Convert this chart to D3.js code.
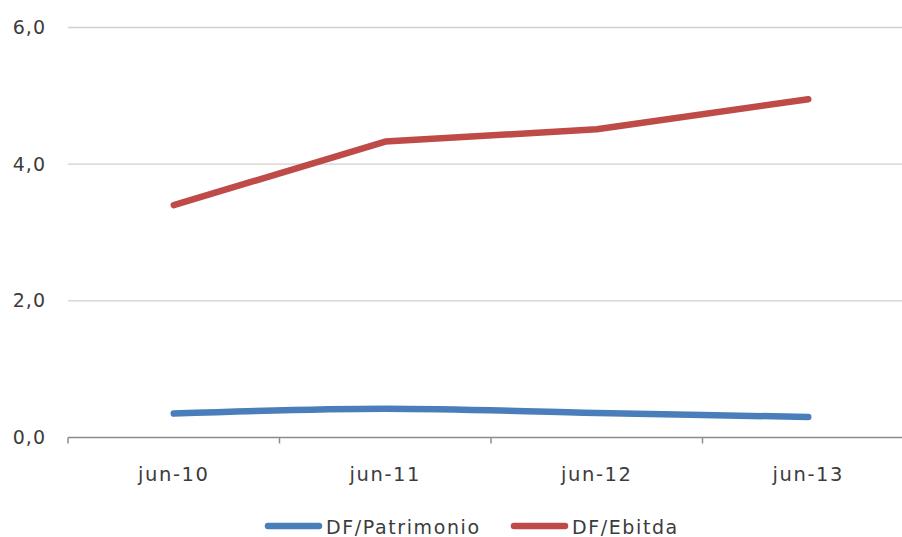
<!DOCTYPE html>
<html>
<head>
<meta charset="utf-8">
<script src="https://cdn.jsdelivr.net/npm/d3@7"></script>
<style>
  html, body { margin: 0; padding: 0; background: #ffffff; }
  svg { display: block; }
  text { font-family: "DejaVu Sans", sans-serif; fill: #3c3c3c; }
</style>
</head>
<body>
<svg id="chart" width="902" height="537"></svg>
<script>
// Periods on the category axis
const categories = ["jun-10", "jun-11", "jun-12", "jun-13"];
// Ratio series
const patrimonio = [0.35, 0.42, 0.36, 0.30];
const ebitda = [3.40, 4.33, 4.51, 4.95];
// Value axis ticks and their labels
const yTicks = [0, 2, 4, 6];
const yTickLabels = ["0,0", "2,0", "4,0", "6,0"];
const seriesNames = ["DF/Patrimonio", "DF/Ebitda"];

const W = 902, H = 537;
const plot = { left: 68, right: 914, top: 27.5, bottom: 437.5 };

const svg = d3.select("#chart");

const x = d3.scaleBand().domain(categories).range([plot.left, plot.right]);
const y = d3.scaleLinear().domain([0, 6]).range([plot.bottom, plot.top]);

// Horizontal gridlines
svg.append("g")
  .selectAll("line")
  .data(yTicks.filter(d => d !== 0))
  .join("line")
  .attr("x1", plot.left).attr("x2", W)
  .attr("y1", d => y(d)).attr("y2", d => y(d))
  .attr("stroke", "#cfcfcf").attr("stroke-width", 1.3);

// Value axis labels
const yAxis = d3.axisLeft(y)
  .tickValues(yTicks)
  .tickFormat((d, i) => yTickLabels[i])
  .tickSize(0)
  .tickPadding(22);
const gy = svg.append("g").attr("transform", `translate(${plot.left},0)`).call(yAxis);
gy.select(".domain").remove();
gy.selectAll("text")
  .attr("font-size", 19).attr("letter-spacing", 1)
  .style("font-family", "DejaVu Sans, sans-serif").attr("fill", "#3c3c3c");

// Category axis line with ticks at band boundaries
const gx = svg.append("g");
gx.append("line")
  .attr("x1", plot.left).attr("x2", W)
  .attr("y1", plot.bottom).attr("y2", plot.bottom)
  .attr("stroke", "#8c8c8c").attr("stroke-width", 1.5);
const boundaries = categories.map(c => x(c));
gx.selectAll("line.tick")
  .data(boundaries)
  .join("line")
  .attr("class", "tick")
  .attr("x1", d => d).attr("x2", d => d)
  .attr("y1", plot.bottom).attr("y2", plot.bottom + 6)
  .attr("stroke", "#8c8c8c").attr("stroke-width", 1.5);
gx.selectAll("text")
  .data(categories)
  .join("text")
  .attr("x", d => x(d) + x.bandwidth() / 2)
  .attr("y", 481)
  .attr("text-anchor", "middle")
  .attr("font-size", 19.5).attr("letter-spacing", 1.6)
  .text(d => d);

const cx = d => x(d) + x.bandwidth() / 2;

// Series lines
const lineLinear = d3.line()
  .x((d, i) => cx(categories[i]))
  .y(d => y(d));
const lineSmooth = d3.line()
  .x((d, i) => cx(categories[i]))
  .y(d => y(d))
  .curve(d3.curveMonotoneX);

svg.append("path")
  .datum(patrimonio)
  .attr("d", lineSmooth)
  .attr("fill", "none")
  .attr("stroke", "#4a7ebb").attr("stroke-width", 6.5)
  .attr("stroke-linecap", "round").attr("stroke-linejoin", "round");

svg.append("path")
  .datum(ebitda)
  .attr("d", lineLinear)
  .attr("fill", "none")
  .attr("stroke", "#be4b48").attr("stroke-width", 6.5)
  .attr("stroke-linecap", "round").attr("stroke-linejoin", "round");

// Legend
const legendItems = [
  { name: seriesNames[0], color: "#4a7ebb", x0: 268 },
  { name: seriesNames[1], color: "#be4b48", x0: 514 }
];
const lg = svg.append("g");
legendItems.forEach(it => {
  lg.append("line")
    .attr("x1", it.x0).attr("x2", it.x0 + 51)
    .attr("y1", 526).attr("y2", 526)
    .attr("stroke", it.color).attr("stroke-width", 6.5)
    .attr("stroke-linecap", "round");
  lg.append("text")
    .attr("x", it.x0 + 58).attr("y", 534)
    .attr("font-size", 19).attr("letter-spacing", 1.6)
    .text(it.name);
});
</script>
</body>
</html>
